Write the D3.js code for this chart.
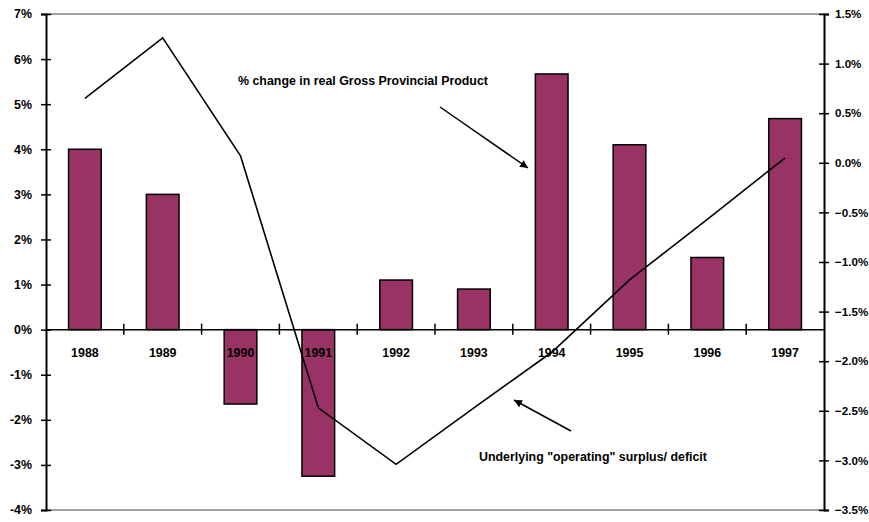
<!DOCTYPE html>
<html>
<head>
<meta charset="utf-8">
<script src="https://cdn.jsdelivr.net/npm/d3@7"></script>
<style>
  body { margin: 0; background: #fff; overflow: hidden; }
  text { font-family: "Liberation Sans", Arial, sans-serif; font-weight: bold; font-size: 12.4px; fill: #000; }
</style>
</head>
<body>
<svg id="chart"></svg>
<script>
// data
const years = ["1988", "1989", "1990", "1991", "1992", "1993", "1994", "1995", "1996", "1997"];
const gppChange = [4.0, 3.0, -1.65, -3.25, 1.1, 0.9, 5.67, 4.1, 1.6, 4.68];      // left axis, %
const operatingBalance = [0.65, 1.26, 0.07, -2.47, -3.04, -2.47, -1.91, -1.18, -0.57, 0.05]; // right axis, %
const leftTicks = [7, 6, 5, 4, 3, 2, 1, 0, -1, -2, -3, -4];
const rightTicks = [1.5, 1.0, 0.5, 0.0, -0.5, -1.0, -1.5, -2.0, -2.5, -3.0, -3.5];

const width = 869, height = 522;
const margin = { top: 14, right: 45, bottom: 12, left: 46 };

const svg = d3.select('#chart')
    .attr('width', width)
    .attr('height', height);

// scales
const x = d3.scaleBand()
    .domain(years)
    .range([margin.left, width - margin.right])
    .padding(0);
const yL = d3.scaleLinear().domain([-4, 7]).range([height - margin.bottom, margin.top]);
const yR = d3.scaleLinear().domain([-3.5, 1.5]).range([height - margin.bottom, margin.top]);

const x0 = margin.left, x1 = width - margin.right;

// gray top / bottom frame lines
svg.append('line').attr('x1', x0).attr('x2', x1).attr('y1', yL(7)).attr('y2', yL(7))
    .attr('stroke', '#808080').attr('stroke-width', 1.5);
svg.append('line').attr('x1', x0).attr('x2', x1).attr('y1', yL(-4)).attr('y2', yL(-4))
    .attr('stroke', '#808080').attr('stroke-width', 1.5);

// bars
const barW = x.bandwidth() * 0.42;
svg.append('g').selectAll('rect')
    .data(gppChange)
    .join('rect')
    .attr('x', (d, i) => x(years[i]) + (x.bandwidth() - barW) / 2)
    .attr('y', d => yL(Math.max(0, d)))
    .attr('width', barW)
    .attr('height', d => Math.abs(yL(d) - yL(0)))
    .attr('fill', '#993366')
    .attr('stroke', '#000')
    .attr('stroke-width', 1.5);

// zero line with category ticks
svg.append('line').attr('x1', x0).attr('x2', x1).attr('y1', yL(0)).attr('y2', yL(0))
    .attr('stroke', '#000').attr('stroke-width', 1.5);
svg.append('g').selectAll('line')
    .data(years.slice(1))
    .join('line')
    .attr('x1', d => x(d)).attr('x2', d => x(d))
    .attr('y1', yL(0) - 6).attr('y2', yL(0) + 5)
    .attr('stroke', '#000').attr('stroke-width', 1.5);

// year labels
svg.append('g').selectAll('text')
    .data(years)
    .join('text')
    .attr('x', d => x(d) + x.bandwidth() / 2)
    .attr('y', yL(0) + 27)
    .attr('text-anchor', 'middle')
    .text(d => d);

// left axis
const leftAxis = svg.append('g').attr('transform', `translate(${x0},0)`)
    .call(d3.axisLeft(yL).tickValues(leftTicks).tickSize(5).tickFormat(d => d + '%'));
leftAxis.selectAll('.tick line').clone().attr('x2', 5);
styleAxis(leftAxis);
leftAxis.selectAll('text').attr('x', -14);

// right axis
const rightAxis = svg.append('g').attr('transform', `translate(${x1},0)`)
    .call(d3.axisRight(yR).tickValues(rightTicks).tickSize(5).tickFormat(d => d3.format('.1f')(d) + '%'));
rightAxis.selectAll('.tick line').clone().attr('x2', -5);
styleAxis(rightAxis);
rightAxis.selectAll('text').attr('x', 11).style('font-size', '11.6px');

function styleAxis(g) {
  g.select('.domain').attr('stroke', '#000').attr('stroke-width', 2);
  g.selectAll('.tick line').attr('stroke', '#000').attr('stroke-width', 1.5);
  g.selectAll('text').attr('fill', '#000');
  g.attr('font-size', null).attr('font-family', null);
}

// operating balance line
const line = d3.line()
    .x((d, i) => x(years[i]) + x.bandwidth() / 2)
    .y(d => yR(d));
svg.append('path')
    .datum(operatingBalance)
    .attr('d', line)
    .attr('fill', 'none')
    .attr('stroke', '#000')
    .attr('stroke-width', 1.6);

// annotations
svg.append('defs').append('marker')
    .attr('id', 'arrow')
    .attr('viewBox', '0 0 10 10')
    .attr('refX', 10).attr('refY', 5)
    .attr('markerWidth', 8).attr('markerHeight', 8)
    .attr('markerUnits', 'userSpaceOnUse')
    .attr('orient', 'auto')
    .append('path').attr('d', 'M0,0 L10,5 L0,10 z').attr('fill', '#000');

svg.append('text').attr('x', 238).attr('y', 84.5).text('% change in real Gross Provincial Product');
svg.append('line').attr('x1', 440).attr('y1', 107).attr('x2', 528).attr('y2', 168)
    .attr('stroke', '#000').attr('stroke-width', 1.5).attr('marker-end', 'url(#arrow)');

svg.append('text').attr('x', 479).attr('y', 461).text('Underlying "operating" surplus/ deficit');
svg.append('line').attr('x1', 571).attr('y1', 431).attr('x2', 514).attr('y2', 400)
    .attr('stroke', '#000').attr('stroke-width', 1.5).attr('marker-end', 'url(#arrow)');
</script>
</body>
</html>
